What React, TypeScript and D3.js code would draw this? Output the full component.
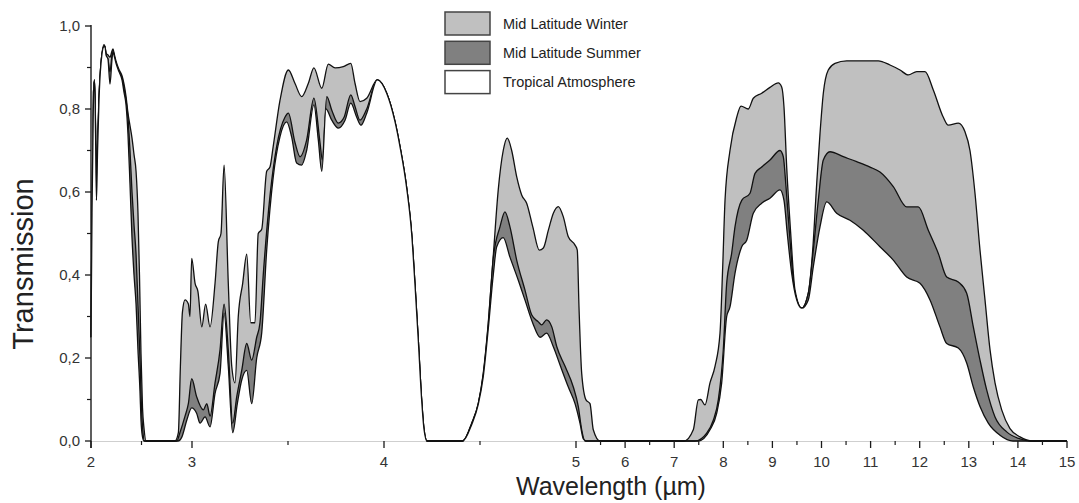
import React from "react";
import * as d3 from "d3";

type Pt = [number, number];

const seriesNames = ["Mid Latitude Winter", "Mid Latitude Summer", "Tropical Atmosphere"];
const seriesFills = ["#c0c0c0", "#808080", "#ffffff"];

const xMajorTicks = [2, 3, 4, 5, 6, 7, 8, 9, 10, 11, 12, 13, 14, 15];
const xMinorTicks = [2.5, 3.5, 4.5, 5.5, 6.5, 7.5, 8.5, 9.5, 10.5, 11.5, 12.5, 13.5, 14.5];
const yMajorTicks = [0, 0.2, 0.4, 0.6, 0.8, 1.0];
const yMinorTicks = [0.1, 0.3, 0.5, 0.7, 0.9];

const winter: Pt[] = [
  [2.0, 0.25], [2.01, 0.55], [2.025, 0.84], [2.035, 0.87], [2.045, 0.76], [2.054, 0.6], [2.065, 0.72], [2.079, 0.83], [2.099, 0.91], [2.129, 0.955], [2.139, 0.95], [2.149, 0.935], [2.168, 0.93], [2.188, 0.925], [2.208, 0.94], [2.218, 0.945], [2.228, 0.935], [2.248, 0.915], [2.277, 0.895], [2.307, 0.88], [2.327, 0.86], [2.347, 0.83], [2.366, 0.79], [2.386, 0.76], [2.406, 0.73], [2.426, 0.69], [2.446, 0.65], [2.465, 0.55], [2.48, 0.4], [2.495, 0.21], [2.51, 0.08], [2.525, 0.03], [2.545, 0],
  [2.832, 0], [2.865, 0.02], [2.885, 0.18], [2.905, 0.31], [2.931, 0.34], [2.964, 0.33], [2.98, 0.3], [2.997, 0.44], [3.016, 0.38], [3.031, 0.36], [3.051, 0.275], [3.071, 0.33], [3.094, 0.275], [3.12, 0.38], [3.137, 0.48], [3.151, 0.5], [3.167, 0.665], [3.189, 0.38], [3.207, 0.18], [3.224, 0.14], [3.241, 0.3], [3.264, 0.38], [3.285, 0.45], [3.306, 0.285], [3.328, 0.285], [3.345, 0.5], [3.363, 0.51], [3.389, 0.65], [3.406, 0.66], [3.423, 0.71], [3.458, 0.82], [3.502, 0.894], [3.536, 0.862], [3.571, 0.83], [3.606, 0.862], [3.635, 0.899], [3.676, 0.85], [3.71, 0.908], [3.745, 0.899], [3.788, 0.902], [3.827, 0.91], [3.849, 0.862], [3.875, 0.818], [3.91, 0.826], [3.965, 0.87], [4.014, 0.838], [4.057, 0.77], [4.083, 0.71], [4.118, 0.61], [4.144, 0.5], [4.161, 0.38], [4.179, 0.24], [4.196, 0.1], [4.208, 0.03], [4.224, 0],
  [4.41, 0], [4.457, 0.043], [4.491, 0.09], [4.517, 0.163], [4.543, 0.284], [4.569, 0.445], [4.595, 0.605], [4.621, 0.7], [4.642, 0.73], [4.665, 0.7], [4.691, 0.637], [4.717, 0.593], [4.743, 0.573], [4.775, 0.516], [4.809, 0.46], [4.83, 0.465], [4.856, 0.508], [4.882, 0.549], [4.908, 0.565], [4.934, 0.54], [4.96, 0.492], [4.995, 0.472], [5.026, 0.46], [5.061, 0.323], [5.116, 0.163], [5.204, 0.099], [5.285, 0.09], [5.352, 0.027], [5.489, 0],
  [7.2, 0], [7.389, 0.027], [7.491, 0.099], [7.54, 0.1], [7.627, 0.087], [7.729, 0.14], [7.831, 0.18], [7.933, 0.26], [7.988, 0.42], [8.035, 0.58], [8.136, 0.7], [8.273, 0.78], [8.361, 0.807], [8.509, 0.8], [8.611, 0.826], [8.782, 0.838], [8.951, 0.852], [9.12, 0.863], [9.189, 0.853], [9.236, 0.805], [9.291, 0.66], [9.373, 0.5], [9.46, 0.364], [9.597, 0.32], [9.731, 0.356], [9.821, 0.46], [9.902, 0.62], [9.969, 0.74], [10.037, 0.838], [10.138, 0.894], [10.275, 0.91], [10.513, 0.916], [10.851, 0.916], [11.157, 0.916], [11.395, 0.906], [11.599, 0.894], [11.768, 0.882], [11.939, 0.89], [12.108, 0.89], [12.277, 0.846], [12.481, 0.78], [12.582, 0.761], [12.786, 0.766], [12.923, 0.745], [13.024, 0.7], [13.126, 0.597], [13.228, 0.46], [13.33, 0.34], [13.432, 0.22], [13.534, 0.14], [13.67, 0.075], [13.839, 0.03], [14.043, 0.01], [14.3, 0], [15, 0],
];

const summer: Pt[] = [
  [2.0, 0.25], [2.01, 0.55], [2.025, 0.84], [2.035, 0.87], [2.045, 0.75], [2.054, 0.59], [2.065, 0.71], [2.079, 0.82], [2.099, 0.91], [2.129, 0.952], [2.139, 0.948], [2.149, 0.93], [2.168, 0.92], [2.188, 0.89], [2.208, 0.93], [2.218, 0.94], [2.228, 0.93], [2.248, 0.91], [2.277, 0.89], [2.307, 0.875], [2.327, 0.85], [2.347, 0.82], [2.366, 0.78], [2.386, 0.7], [2.406, 0.6], [2.426, 0.52], [2.446, 0.45], [2.465, 0.33], [2.485, 0.2], [2.5, 0.08], [2.515, 0.02], [2.53, 0],
  [2.85, 0], [2.88, 0.02], [2.931, 0.06], [2.964, 0.09], [2.997, 0.15], [3.024, 0.107], [3.059, 0.075], [3.077, 0.09], [3.094, 0.06], [3.12, 0.14], [3.146, 0.22], [3.167, 0.33], [3.189, 0.22], [3.212, 0.043], [3.233, 0.107], [3.259, 0.17], [3.285, 0.235], [3.311, 0.195], [3.337, 0.25], [3.354, 0.285], [3.371, 0.4], [3.406, 0.59], [3.441, 0.71], [3.484, 0.78], [3.502, 0.79], [3.536, 0.72], [3.563, 0.685], [3.597, 0.725], [3.635, 0.826], [3.667, 0.718], [3.679, 0.677], [3.702, 0.83], [3.728, 0.797], [3.762, 0.766], [3.792, 0.78], [3.827, 0.834], [3.849, 0.806], [3.875, 0.773], [3.91, 0.8], [3.965, 0.87], [4.014, 0.838], [4.057, 0.77], [4.083, 0.71], [4.118, 0.61], [4.144, 0.5], [4.161, 0.38], [4.179, 0.24], [4.196, 0.1], [4.208, 0.03], [4.224, 0],
  [4.41, 0], [4.457, 0.043], [4.491, 0.09], [4.517, 0.16], [4.543, 0.28], [4.569, 0.44], [4.604, 0.516], [4.63, 0.552], [4.656, 0.516], [4.691, 0.436], [4.734, 0.364], [4.769, 0.304], [4.804, 0.287], [4.821, 0.28], [4.847, 0.292], [4.874, 0.275], [4.9, 0.227], [4.943, 0.18], [4.986, 0.13], [5.047, 0.083], [5.116, 0.027], [5.183, 0],
  [7.424, 0], [7.662, 0.019], [7.796, 0.05], [7.898, 0.099], [8.0, 0.22], [8.069, 0.38], [8.171, 0.453], [8.238, 0.516], [8.375, 0.58], [8.544, 0.597], [8.646, 0.645], [8.782, 0.66], [8.951, 0.677], [9.155, 0.7], [9.222, 0.685], [9.277, 0.613], [9.358, 0.485], [9.46, 0.356], [9.597, 0.32], [9.731, 0.356], [9.833, 0.46], [9.935, 0.58], [10.037, 0.677], [10.173, 0.697], [10.444, 0.685], [10.717, 0.673], [10.988, 0.66], [11.191, 0.648], [11.462, 0.613], [11.735, 0.564], [11.971, 0.564], [12.175, 0.508], [12.379, 0.452], [12.55, 0.395], [12.786, 0.383], [12.957, 0.356], [13.092, 0.275], [13.228, 0.195], [13.364, 0.123], [13.534, 0.058], [13.772, 0.022], [14.043, 0.005], [14.25, 0], [15, 0],
];

const tropical: Pt[] = [
  [2.0, 0.25], [2.01, 0.55], [2.025, 0.84], [2.035, 0.87], [2.045, 0.74], [2.054, 0.58], [2.065, 0.7], [2.079, 0.82], [2.099, 0.91], [2.129, 0.95], [2.139, 0.95], [2.149, 0.93], [2.168, 0.92], [2.188, 0.86], [2.208, 0.92], [2.218, 0.94], [2.228, 0.93], [2.248, 0.91], [2.277, 0.89], [2.307, 0.87], [2.327, 0.84], [2.347, 0.81], [2.366, 0.74], [2.386, 0.62], [2.406, 0.49], [2.426, 0.4], [2.446, 0.33], [2.465, 0.22], [2.485, 0.12], [2.495, 0.05], [2.51, 0.01], [2.525, 0],
  [2.861, 0], [2.9, 0.01], [2.948, 0.05], [2.997, 0.08], [3.024, 0.067], [3.042, 0.043], [3.068, 0.058], [3.094, 0.034], [3.12, 0.115], [3.146, 0.163], [3.167, 0.308], [3.189, 0.18], [3.212, 0.02], [3.236, 0.09], [3.259, 0.147], [3.285, 0.17], [3.311, 0.09], [3.337, 0.2], [3.363, 0.26], [3.389, 0.46], [3.423, 0.636], [3.458, 0.733], [3.493, 0.769], [3.519, 0.733], [3.545, 0.67], [3.571, 0.665], [3.597, 0.7], [3.635, 0.81], [3.658, 0.725], [3.676, 0.65], [3.698, 0.8], [3.728, 0.773], [3.762, 0.754], [3.797, 0.773], [3.827, 0.814], [3.858, 0.78], [3.88, 0.761], [3.91, 0.79], [3.965, 0.87], [4.014, 0.838], [4.057, 0.77], [4.083, 0.71], [4.118, 0.61], [4.144, 0.5], [4.161, 0.38], [4.179, 0.24], [4.196, 0.1], [4.208, 0.03], [4.224, 0],
  [4.41, 0], [4.457, 0.04], [4.491, 0.088], [4.517, 0.155], [4.543, 0.27], [4.569, 0.4], [4.587, 0.468], [4.621, 0.49], [4.656, 0.443], [4.699, 0.388], [4.734, 0.34], [4.775, 0.284], [4.813, 0.25], [4.847, 0.26], [4.882, 0.227], [4.917, 0.183], [4.96, 0.13], [4.995, 0.09], [5.081, 0.043], [5.149, 0.005], [5.204, 0],
  [7.491, 0], [7.729, 0.027], [7.866, 0.067], [7.967, 0.14], [8.069, 0.3], [8.136, 0.323], [8.238, 0.404], [8.375, 0.468], [8.477, 0.484], [8.611, 0.549], [8.782, 0.573], [8.951, 0.585], [9.155, 0.605], [9.236, 0.58], [9.303, 0.5], [9.393, 0.404], [9.495, 0.34], [9.597, 0.32], [9.731, 0.34], [9.833, 0.42], [9.969, 0.516], [10.106, 0.576], [10.309, 0.549], [10.58, 0.532], [10.851, 0.508], [11.191, 0.468], [11.462, 0.436], [11.735, 0.395], [12.006, 0.38], [12.21, 0.34], [12.413, 0.275], [12.55, 0.235], [12.786, 0.224], [12.957, 0.188], [13.092, 0.13], [13.228, 0.083], [13.397, 0.043], [13.635, 0.014], [13.9, 0], [15, 0],
];

const allSeries = [winter, summer, tropical];

const W = 1079;
const H = 503;
const FONT = "'Liberation Sans', Arial, Helvetica, sans-serif";

export default function App() {
  const x = d3.scaleLinear().domain([2, 3, 5, 15]).range([91, 192, 576, 1067]);
  const y = d3.scaleLinear().domain([0, 1]).range([441, 26]);

  const area = d3
    .area<Pt>()
    .x((d) => x(d[0]))
    .y0(y(0))
    .y1((d) => y(d[1]))
    .curve(d3.curveMonotoneX);
  const line = d3
    .line<Pt>()
    .x((d) => x(d[0]))
    .y((d) => y(d[1]))
    .curve(d3.curveMonotoneX);

  const fmt = (v: number) => v.toFixed(1).replace(".", ",");
  const x0 = x(2);
  const yBase = y(0);

  return (
    <svg
      width={W}
      height={H}
      style={{ position: "absolute", left: 0, top: 0, background: "#fff" }}
      fontFamily={FONT}
    >
      <rect x={0} y={0} width={W} height={H} fill="#fff" />
      {/* x baseline */}
      <line x1={x0} x2={x(15)} y1={yBase} y2={yBase} stroke="#a0a0a0" strokeWidth={1.2} />

      {allSeries.map((s, i) => (
        <g key={i}>
          <path d={area(s) || ""} fill={seriesFills[i]} stroke="none" />
          <path d={line(s) || ""} fill="none" stroke="#111" strokeWidth={1.3} strokeLinejoin="round" />
        </g>
      ))}

      {/* y axis */}
      <line x1={x0} x2={x0} y1={y(1) - 1} y2={yBase + 7} stroke="#1a1a1a" strokeWidth={1.4} />
      {yMajorTicks.map((t) => (
        <g key={"ym" + t}>
          <line x1={x0 - 6} x2={x0} y1={y(t)} y2={y(t)} stroke="#1a1a1a" strokeWidth={1.3} />
          <text x={80} y={y(t)} dy="0.35em" textAnchor="end" fontSize={15} fill="#333">
            {fmt(t)}
          </text>
        </g>
      ))}
      {yMinorTicks.map((t) => (
        <line key={"yn" + t} x1={x0 - 4} x2={x0} y1={y(t)} y2={y(t)} stroke="#1a1a1a" strokeWidth={1.2} />
      ))}

      {/* x ticks */}
      {xMajorTicks.map((t) => (
        <g key={"xm" + t}>
          <line x1={x(t)} x2={x(t)} y1={yBase} y2={yBase + 7} stroke="#1a1a1a" strokeWidth={1.3} />
          <text x={x(t)} y={466.5} textAnchor="middle" fontSize={15} fill="#333">
            {t}
          </text>
        </g>
      ))}
      {xMinorTicks.map((t) => (
        <line key={"xn" + t} x1={x(t)} x2={x(t)} y1={yBase} y2={yBase + 4} stroke="#1a1a1a" strokeWidth={1.2} />
      ))}

      {/* axis titles */}
      <text x={611} y={495} textAnchor="middle" fontSize={25} fill="#222">
        Wavelength (µm)
      </text>
      <text
        transform={`translate(33, 264) rotate(-90)`}
        textAnchor="middle"
        fontSize={29}
        fill="#222"
      >
        Transmission
      </text>

      {/* legend */}
      {seriesNames.map((n, i) => (
        <g key={n} transform={`translate(445, ${12 + i * 29.3})`}>
          <rect x={0} y={0} width={45} height={23} fill={seriesFills[i]} stroke="#444" strokeWidth={1.5} />
          <text x={58} y={11.5} dy="0.36em" fontSize={14.5} fill="#222">
            {n}
          </text>
        </g>
      ))}
    </svg>
  );
}
